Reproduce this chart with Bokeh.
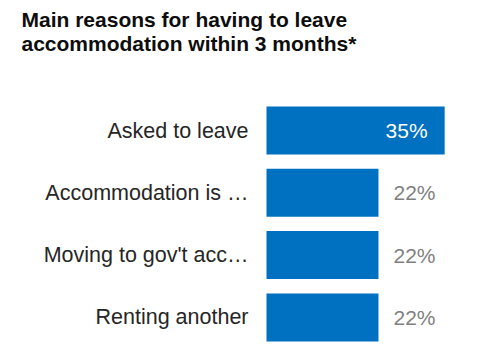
from bokeh.plotting import figure
from bokeh.models import ColumnDataSource, Range1d, Label
from bokeh.core.properties import value
from bokeh.embed import file_html
from bokeh.resources import INLINE

categories = ["Asked to leave", "Accommodation is \u2026", "Moving to gov't acc\u2026", "Renting another"]
values = [35, 22, 22, 22]
value_labels = ["35%", "22%", "22%", "22%"]
title_lines = ["Main reasons for having to leave", "accommodation within 3 months*"]

FONT = "Liberation Sans"
W, H = 478, 345
n = len(categories)
ypos = [n - i for i in range(n)]  # top category first

inside = [v >= 30 for v in values]
src = ColumnDataSource(dict(
    cat=categories, val=values, y=ypos, lab=value_labels,
    lab_in=[l if f else "" for l, f in zip(value_labels, inside)],
    lab_out=[l if not f else "" for l, f in zip(value_labels, inside)],
))

px_per_unit = 5.09
x0_px = 266
pitch = 62.3
top_center_px = 130

p = figure(width=W, height=H, output_backend="svg", toolbar_location=None,
           x_range=Range1d(-x0_px / px_per_unit, (W - x0_px) / px_per_unit),
           y_range=Range1d(n - (H - top_center_px) / pitch, n + top_center_px / pitch),
           min_border=0, min_border_left=0, min_border_right=0,
           min_border_top=0, min_border_bottom=0)
p.xaxis.visible = False
p.yaxis.visible = False
p.grid.visible = False
p.outline_line_color = None
p.background_fill_color = "white"
p.border_fill_color = "white"

p.hbar(y="y", right="val", left=0, height=48 / pitch, source=src,
       fill_color="#0070C0", line_color=None)

p.text(x=0, y="y", text="cat", source=src, x_offset=-18,
       text_align="right", text_baseline="middle",
       text_font=value(FONT), text_font_size="21.5px", text_color="#262626")

p.text(x="val", y="y", text="lab_in", source=src, x_offset=-17,
       text_align="right", text_baseline="middle",
       text_font=value(FONT), text_font_size="21px", text_color="white")

p.text(x="val", y="y", text="lab_out", source=src, x_offset=15,
       text_align="left", text_baseline="middle",
       text_font=value(FONT), text_font_size="21px", text_color="#7F7F7F")

for i, line in enumerate(title_lines):
    p.add_layout(Label(x=21, y=H - 19 - 24 * i, x_units="screen", y_units="screen",
                       text=line, text_font=FONT, text_font_size="21px",
                       text_font_style="bold", text_color="#0D0D0D",
                       text_baseline="alphabetic"))

open("out.html", "w").write(file_html(p, INLINE))
